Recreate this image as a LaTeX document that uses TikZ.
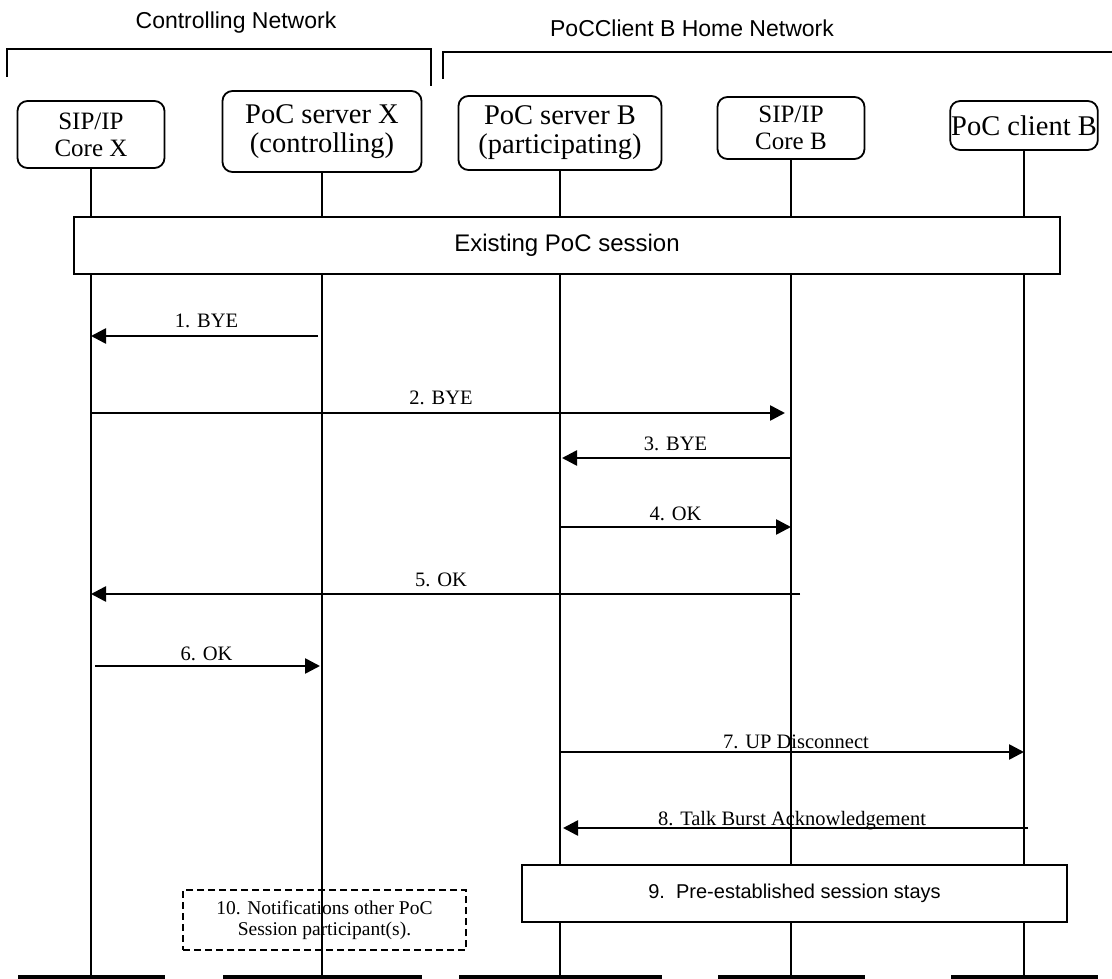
\documentclass[tikz,border=0pt]{standalone}
\usepackage{fontspec}
\setmainfont{Liberation Serif}
\newfontfamily\arialfont{Liberation Sans}
\usetikzlibrary{arrows.meta}

\begin{document}
\begin{tikzpicture}[x=1pt, y=-1pt,
    entity/.style={rectangle, draw=black, line width=1.8pt, rounded corners=10pt,
                   align=center, inner sep=1pt, font=\fontsize{28.5}{29}\selectfont},
    core/.style={entity, font=\fontsize{25}{27}\selectfont},
    bar/.style={rectangle, fill=black, minimum height=4pt, inner sep=0pt},
    life/.style={line width=1.8pt},
    msg/.style={-{Triangle[length=15pt, width=15pt]}, line width=2.6pt},
    lbl/.style={anchor=base, font=\fontsize{20.5}{22}\selectfont},
    phase/.style={rectangle, draw=black, line width=1.6pt, fill=white,
                  font=\arialfont\fontsize{20}{24}\selectfont},
    note/.style={rectangle, draw=black, line width=1.5pt, dash pattern=on 7pt off 4pt,
                 align=center, font=\fontsize{19.5}{21}\selectfont},
    hdr/.style={font=\arialfont\fontsize{23}{26}\selectfont},
    bracket/.style={line width=1.6pt}
  ]
  \useasboundingbox (0,0) rectangle (1112,979);

  % network headers
  \node[hdr] (ctrlnet) at (236,23) {Controlling Network};
  \node[hdr] (homenet) at (692,28) {PoCClient B Home Network};
  \draw[bracket] (7,77) -- (7,49) -- (431,49) -- (431,86);
  \draw[bracket] (443,79) -- (443,52) -- (1112,52);

  % entities
  \node[core,   minimum width=147pt, minimum height=67pt] (cx) at (91,134.5)  {SIP/IP\\Core X};
  \node[entity, minimum width=199pt, minimum height=81pt] (sx) at (322,131.5) {PoC server X\\(controlling)};
  \node[entity, minimum width=203pt, minimum height=74pt] (sb) at (560,133)   {PoC server B\\(participating)};
  \node[core,   minimum width=147pt, minimum height=62pt] (cb) at (791,128)   {SIP/IP\\Core B};
  \node[entity, minimum width=147pt, minimum height=49pt] (cl) at (1024,125.5) {PoC client B};

  % lifeline ends
  \node[bar, minimum width=147pt] (cxbot) at (91,977)   {};
  \node[bar, minimum width=199pt] (sxbot) at (322,977)  {};
  \node[bar, minimum width=203pt] (sbbot) at (560,977)  {};
  \node[bar, minimum width=147pt] (cbbot) at (791,977)  {};
  \node[bar, minimum width=147pt] (clbot) at (1024,977) {};

  \draw[life] (cx) -- (cxbot);
  \draw[life] (sx) -- (sxbot);
  \draw[life] (sb) -- (sbbot);
  \draw[life] (cb) -- (cbbot);
  \draw[life] (cl) -- (clbot);

  \node[phase, minimum width=986pt, minimum height=57pt, font=\arialfont\fontsize{24}{26}\selectfont]
    (exist) at (567,245.5) {Existing PoC session};

  % messages
  \draw[msg, shorten <=4pt] (sx |- 0,336) -- node[lbl, yshift=9pt] {1. BYE} (cx |- 0,336);
  \draw[msg, shorten >=6pt] (cx |- 0,413) -- node[lbl, yshift=9pt] {2. BYE} (cb |- 0,413);
  \draw[msg, shorten >=2pt] (cb |- 0,458) -- node[lbl, yshift=8pt] {3. BYE} (sb |- 0,458);
  \draw[msg] (sb |- 0,527) -- node[lbl, yshift=7pt] {4. OK} (cb |- 0,527);
  \draw[msg, shorten <=-9pt] (cb |- 0,594) -- node[lbl, yshift=8pt] {5. OK} (cx |- 0,594);
  \draw[msg, shorten <=4pt, shorten >=2pt] (cx |- 0,666) -- node[lbl, yshift=6pt] {6. OK} (sx |- 0,666);
  \draw[msg] (sb |- 0,752) -- node[lbl, yshift=4pt, xshift=4pt] {7. UP Disconnect} (cl |- 0,752);
  \draw[msg, shorten <=-4pt, shorten >=3pt] (cl |- 0,828) -- node[lbl, yshift=3pt] {8. Talk Burst Acknowledgement} (sb |- 0,828);

  \node[phase, minimum width=545pt, minimum height=57pt] (stays) at (794.5,893.5) {9.\ \ Pre-established session stays};
  \node[note, minimum width=283pt, minimum height=60pt] (notify) at (324.5,920) {10. Notifications other PoC\\Session participant(s).};
\end{tikzpicture}
\end{document}
